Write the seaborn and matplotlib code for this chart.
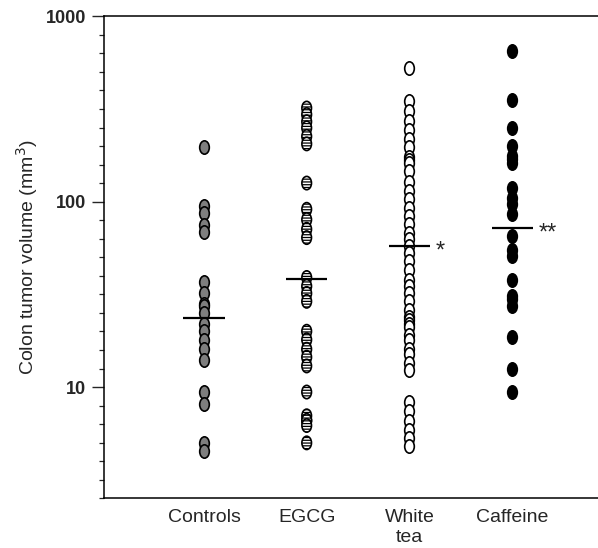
import seaborn as sns
import matplotlib.pyplot as plt
import matplotlib.ticker as mticker
from matplotlib.path import Path
from matplotlib.transforms import Affine2D
import pandas as pd
import numpy as np

sns.set_style("ticks")
plt.rcParams["font.family"] = ["Liberation Sans", "DejaVu Sans"]
plt.rcParams["hatch.linewidth"] = 0.9

# Colon tumor volumes (mm^3)
groups = ["Controls", "EGCG", "White tea", "Caffeine"]
tick_labels = ["Controls", "EGCG", "White\ntea", "Caffeine"]

controls = [198, 95, 87, 75, 69, 37, 32, 28, 27.5, 25, 22, 20, 18, 16, 14,
            9.4, 8.1, 5.0, 4.5]
egcg = [320, 295, 270, 250, 225, 205, 126, 91, 80, 71, 64, 39, 35, 32, 29,
        20, 18, 16, 14.5, 13, 9.4, 7.0, 6.6, 6.6, 6.2, 5.0]
white_tea = [527, 350, 310, 274, 245, 219, 196, 175, 167, 161, 146, 127, 114,
             103, 93, 84, 76, 68, 63, 57.5, 53, 48, 43, 38, 35, 32, 29, 26,
             24, 23, 22, 21, 19, 18, 16, 15, 13.5, 12.4, 8.3, 7.4, 6.6, 5.9,
             5.3, 4.8]
caffeine = [646, 355, 250, 199, 176, 169, 162, 119, 105, 97, 86, 65, 55, 51,
            38, 31, 30, 27.5, 18.6, 12.5, 9.4]
medians = [23.6, 38.5, 57.7, 71.8]
stars = ["", "", "*", "**"]

df = pd.DataFrame({
    "group": (["Controls"] * len(controls) + ["EGCG"] * len(egcg)
              + ["White tea"] * len(white_tea) + ["Caffeine"] * len(caffeine)),
    "volume": controls + egcg + white_tea + caffeine,
})

# style per group: face colour, hatch
styles = {
    "Controls": ("#7e7e7e", None),
    "EGCG": ("white", "------"),
    "White tea": ("white", None),
    "Caffeine": ("black", None),
}

# upright oval marker
oval = Path.unit_circle().transformed(Affine2D().scale(0.72, 1.0))

fig = plt.figure(figsize=(5.98, 5.48), dpi=100)
ax = fig.add_axes([0.1739, 0.0907, 0.8261, 0.8796])

for g in groups:
    face, hatch = styles[g]
    n_before = len(ax.collections)
    sns.stripplot(data=df[df["group"] == g], x="group", y="volume", order=groups,
                  jitter=False, marker=oval, size=9.6, color=face,
                  edgecolor="black", linewidth=1.2, ax=ax, zorder=3)
    for coll in ax.collections[n_before:]:
        coll.set_facecolor(face)
        coll.set_edgecolor("black")
        if hatch:
            coll.set_hatch(hatch)

ax.set_yscale("log")
ax.set_ylim(10 ** 0.4, 1000)
ax.set_xlim(-0.974, 3.837)

# median bars and significance marks
pos = np.arange(len(groups))
ax.hlines(medians, pos - 0.2, pos + 0.2, color="black", lw=1.6, zorder=4)
for i, (m, s) in enumerate(zip(medians, stars)):
    if s:
        ax.annotate(s, (i + 0.26, m), xytext=(0, -4), textcoords="offset points",
                    ha="left", va="center", fontsize=17)

ax.set_yticks([10, 100, 1000], labels=["10", "100", "1000"])
ax.yaxis.set_minor_locator(mticker.FixedLocator(10 ** np.arange(0.4, 3.001, 0.1)))
ax.yaxis.set_minor_formatter(mticker.NullFormatter())
ax.set_xticks(pos, labels=tick_labels)

ax.tick_params(axis="y", which="major", length=8.6, width=1.0, labelsize=13, pad=4)
ax.tick_params(axis="y", which="minor", length=3.6, width=0.9)
for lab in ax.get_yticklabels():
    lab.set_fontweight("bold")
ax.tick_params(axis="x", length=0, labelsize=14, pad=8)

ax.set_xlabel("")
ax.set_ylabel("Colon tumor volume (mm$^3$)", fontsize=14)
ax.yaxis.set_label_coords(-0.13, 0.5)

for side in ["left", "top", "bottom"]:
    ax.spines[side].set_linewidth(1.1)
    ax.spines[side].set_color("black")
ax.spines["right"].set_visible(False)

plt.savefig("out.png", dpi=100)
plt.close()
